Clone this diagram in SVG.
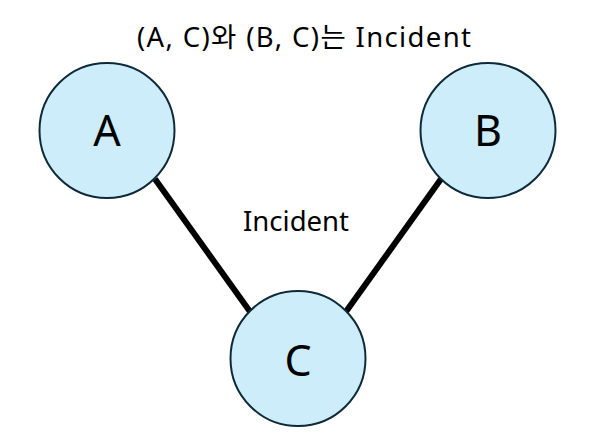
<svg xmlns="http://www.w3.org/2000/svg" width="599" height="440" viewBox="0 0 599 440">
<style>
.node circle{fill:#cdedfb;stroke:#0e2a38;stroke-width:2}
.node text{font-family:"Noto Sans","Noto Sans CJK KR",sans-serif;font-size:43px;fill:#000;text-anchor:middle}
.lbl{font-family:"Noto Sans","Noto Sans CJK KR",sans-serif;font-size:27.5px;fill:#000;text-anchor:middle}
.edges line{stroke:#000;stroke-width:6}
</style>
<rect width="599" height="440" fill="#fff"/>
<g class="edges">
<line x1="155" y1="179" x2="251" y2="313"/>
<line x1="441" y1="179" x2="345" y2="313"/>
</g>
<g id="A" class="node"><circle cx="107" cy="130.5" r="67.5"/><text x="107" y="146">A</text></g>
<g id="B" class="node"><circle cx="488" cy="130.5" r="67.5"/><text x="488" y="146">B</text></g>
<g id="C" class="node"><circle cx="298" cy="358.5" r="67.5"/><text x="298" y="376">C</text></g>
<text class="lbl" x="304" y="47" textLength="334" lengthAdjust="spacing">(A, C)와 (B, C)는 Incident</text>
<text class="lbl" x="296" y="231">Incident</text>
</svg>
